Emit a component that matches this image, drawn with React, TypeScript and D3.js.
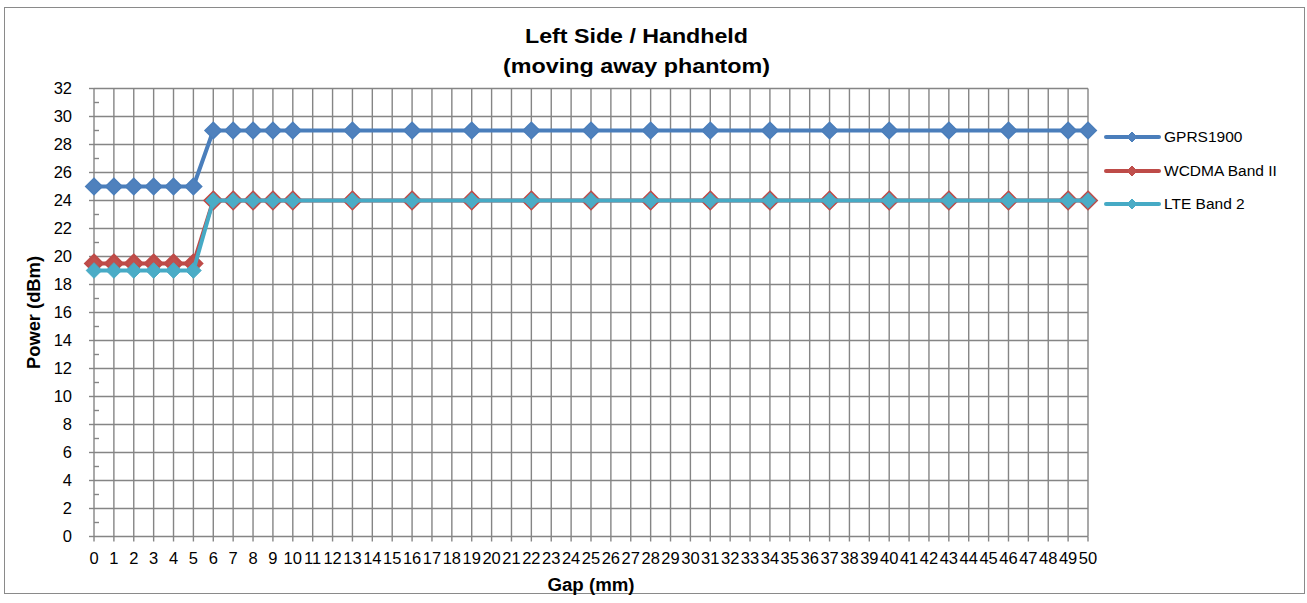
import React from "react";
import * as d3 from "d3";

const gaps = [0, 1, 2, 3, 4, 5, 6, 7, 8, 9, 10, 13, 16, 19, 22, 25, 28, 31, 34, 37, 40, 43, 46, 49, 50];
const gprs1900 = [25, 25, 25, 25, 25, 25, 29, 29, 29, 29, 29, 29, 29, 29, 29, 29, 29, 29, 29, 29, 29, 29, 29, 29, 29];
const wcdmaBand2 = [19.5, 19.5, 19.5, 19.5, 19.5, 19.5, 24, 24, 24, 24, 24, 24, 24, 24, 24, 24, 24, 24, 24, 24, 24, 24, 24, 24, 24];
const lteBand2 = [19, 19, 19, 19, 19, 19, 24, 24, 24, 24, 24, 24, 24, 24, 24, 24, 24, 24, 24, 24, 24, 24, 24, 24, 24];
const xTicks = d3.range(0, 51);
const yTicks = d3.range(0, 33, 2);
const yMinor = d3.range(1, 32, 2);

const seriesNames = ["GPRS1900", "WCDMA Band II", "LTE Band 2"];
const seriesValues = [gprs1900, wcdmaBand2, lteBand2];
const lineColors = ["#4A7EBB", "#BE4B48", "#46AAC5"];
const fillColors = ["#4F81BD", "#C0504D", "#4BACC6"];

const FONT = "'Liberation Sans', Arial, sans-serif";

export default function App() {
  const x = d3.scaleLinear().domain([0, 50]).range([94, 1088]);
  const y = d3.scaleLinear().domain([0, 32]).range([536.5, 88.5]);
  const grid = "#858585";
  const gw = 1.4;

  const line = d3
    .line<number>()
    .x((_, i) => x(gaps[i]))
    .y((v) => y(v));

  const diamond = (cx: number, cy: number, r: number) =>
    `M${cx},${cy - r}L${cx + r},${cy}L${cx},${cy + r}L${cx - r},${cy}Z`;

  const markerR = [8.3, 8.5, 7.8];
  const markerSW = [1.5, 2.6, 1];
  const legendY = [137, 171, 204];

  return (
    <svg
      width={1307}
      height={603}
      style={{ position: "absolute", left: 0, top: 0, background: "#fff" }}
      fontFamily={FONT}
    >
      <rect x={0} y={0} width={1307} height={603} fill="#fff" />
      <rect x={4.5} y={7.5} width={1300} height={586} fill="#fff" stroke="#8a8a8a" strokeWidth={1} />

      {/* gridlines */}
      {yTicks.map((t) => (
        <line key={"hy" + t} x1={x(0)} x2={x(50)} y1={y(t)} y2={y(t)} stroke={grid} strokeWidth={gw} />
      ))}
      {xTicks.map((t) => (
        <line key={"vx" + t} x1={x(t)} x2={x(t)} y1={y(0)} y2={y(32)} stroke={grid} strokeWidth={gw} />
      ))}
      {/* axes ticks */}
      {yTicks.map((t) => (
        <line key={"ty" + t} x1={x(0) - 5} x2={x(0)} y1={y(t)} y2={y(t)} stroke={grid} strokeWidth={gw} />
      ))}
      {yMinor.map((t) => (
        <line key={"tm" + t} x1={x(0)} x2={x(0) + 5} y1={y(t)} y2={y(t)} stroke={grid} strokeWidth={gw} />
      ))}
      {xTicks.map((t) => (
        <line key={"tx" + t} x1={x(t)} x2={x(t)} y1={y(0)} y2={y(0) + 5} stroke={grid} strokeWidth={gw} />
      ))}

      {/* tick labels */}
      {yTicks.map((t) => (
        <text key={"ly" + t} x={72} y={y(t) + 5.8} textAnchor="end" fontSize={16.5} fill="#000">
          {t}
        </text>
      ))}
      {xTicks.map((t) => (
        <text key={"lx" + t} x={x(t)} y={563.5} textAnchor="middle" fontSize={16.5} fill="#000">
          {t}
        </text>
      ))}

      {/* series */}
      {seriesValues.map((vals, s) => (
        <g key={"s" + s}>
          <path d={line(vals) || ""} fill="none" stroke={lineColors[s]} strokeWidth={4} strokeLinejoin="round" />
          {vals.map((v, i) => (
            <path
              key={i}
              d={diamond(x(gaps[i]), y(v), markerR[s])}
              fill={fillColors[s]}
              stroke={lineColors[s]}
              strokeWidth={markerSW[s]}
            />
          ))}
        </g>
      ))}

      {/* legend */}
      {seriesNames.map((name, s) => (
        <g key={"lg" + s}>
          <line x1={1106} x2={1159} y1={legendY[s]} y2={legendY[s]} stroke={lineColors[s]} strokeWidth={4} strokeLinecap="round" />
          <path d={diamond(1132, legendY[s], 5)} fill={fillColors[s]} stroke={lineColors[s]} strokeWidth={1} />
          <text x={1164} y={legendY[s] + 5.3} fontSize={15.5} fill="#000">
            {name}
          </text>
        </g>
      ))}

      {/* titles */}
      <text x={636.5} y={43} textAnchor="middle" fontSize={20} fontWeight="bold" textLength={223} lengthAdjust="spacingAndGlyphs">
        Left Side / Handheld
      </text>
      <text x={636.5} y={73} textAnchor="middle" fontSize={20} fontWeight="bold" textLength={267} lengthAdjust="spacingAndGlyphs">
        (moving away phantom)
      </text>
      <text x={591} y={591} textAnchor="middle" fontSize={17.5} fontWeight="bold" textLength={87} lengthAdjust="spacingAndGlyphs">
        Gap (mm)
      </text>
      <text
        transform={`translate(40,${(y(0) + y(32)) / 2}) rotate(-90)`}
        textAnchor="middle"
        fontSize={17.5}
        fontWeight="bold"
        textLength={113}
        lengthAdjust="spacingAndGlyphs"
      >
        Power (dBm)
      </text>
    </svg>
  );
}
